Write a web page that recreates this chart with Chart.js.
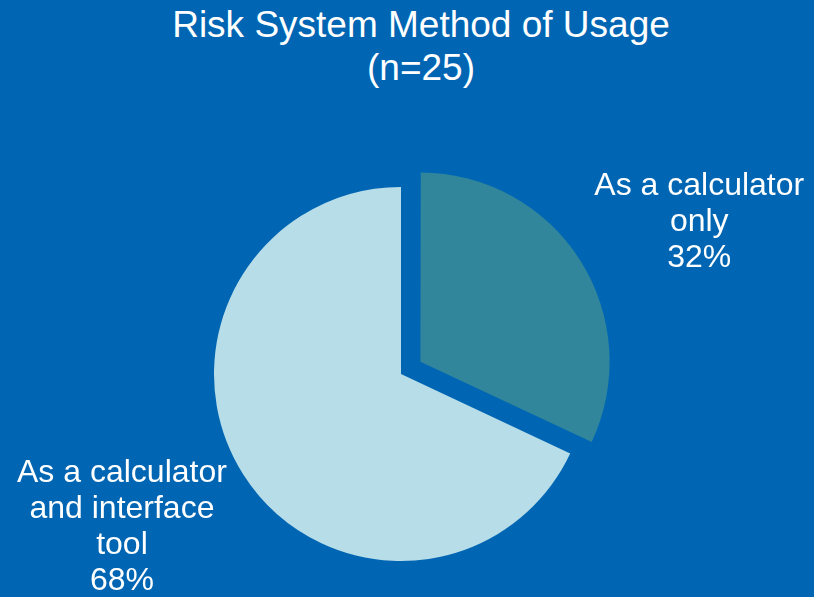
<!DOCTYPE html>
<html>
<head>
<meta charset="utf-8">
<script src="https://cdn.jsdelivr.net/npm/chart.js@4/dist/chart.umd.min.js"></script>
<style>
  html, body { margin: 0; padding: 0; background: #0066B3; }
  #wrap { position: relative; width: 814px; height: 597px; overflow: hidden; }
  #title {
    position: absolute; left: 20px; top: 3px; width: 802px;
    text-align: center; color: #fff;
    font-family: "Liberation Sans", Arial, sans-serif; font-size: 37px; line-height: 43px;
  }
  canvas { position: absolute; left: 0; top: 0; }
</style>
</head>
<body>
<div id="wrap">
  <div id="title">Risk System Method of Usage<br>(n=25)</div>
  <canvas id="chart" width="814" height="597"></canvas>
</div>
<script>
const categories = ['As a calculator only', 'As a calculator and interface tool'];
const labelLines = [['As a calculator', 'only'], ['As a calculator', 'and interface', 'tool']];
const shares = [32, 68];
const sliceColors = ['#31869B', '#B7DDE8'];

// where each outside label sits, relative to its slice
const labelDistance = [1.79, 1.702];
const labelAngleShift = [5.4, 3.65];

const outsideLabels = {
  id: 'outsideLabels',
  afterDatasetsDraw(chart) {
    const ctx = chart.ctx;
    const arcs = chart.getDatasetMeta(0).data;
    ctx.save();
    ctx.fillStyle = '#ffffff';
    ctx.font = '32px "Liberation Sans", Arial, sans-serif';
    ctx.textAlign = 'center';
    ctx.textBaseline = 'middle';
    arcs.forEach((arc, i) => {
      const mid = (arc.startAngle + arc.endAngle) / 2 + labelAngleShift[i] * Math.PI / 180;
      const d = arc.outerRadius * labelDistance[i];
      const cx = arc.x + Math.cos(mid) * d;
      const cy = arc.y + Math.sin(mid) * d;
      const lines = labelLines[i].concat([shares[i] + '%']);
      const lh = 36;
      lines.forEach((t, j) => {
        ctx.fillText(t, cx, cy + (j - (lines.length - 1) / 2) * lh);
      });
    });
    ctx.restore();
  }
};

new Chart(document.getElementById('chart'), {
  type: 'pie',
  data: {
    labels: categories,
    datasets: [{
      data: shares,
      backgroundColor: sliceColors,
      borderWidth: 0,
      offset: [92, 0],
      hoverOffset: 0
    }]
  },
  options: {
    responsive: false,
    animation: false,
    radius: 187,
    layout: { padding: { left: 0, right: 12, top: 151, bottom: 0 } },
    plugins: {
      legend: { display: false },
      tooltip: { enabled: false },
      title: { display: false }
    },
    events: []
  },
  plugins: [outsideLabels]
});
</script>
</body>
</html>
